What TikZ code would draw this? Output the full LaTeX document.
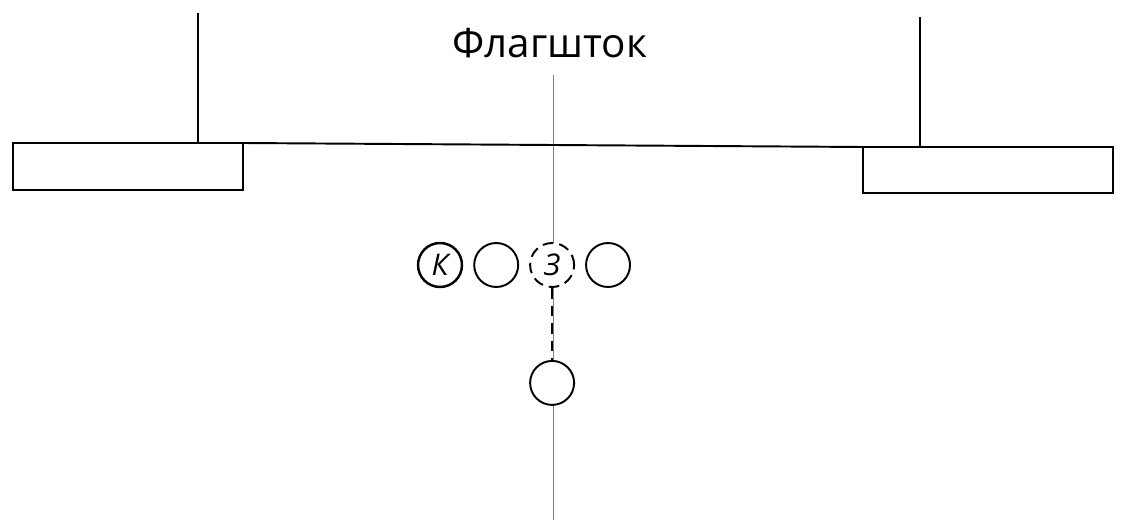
\documentclass[tikz,border=0pt]{standalone}
\usepackage{fontspec}
\setmainfont{Open Sans}
\usetikzlibrary{positioning}

\tikzset{
  player/.style={circle, draw, line width=1.1pt, fill=white, minimum size=0.88cm, inner sep=0pt,
                 font=\fontsize{17}{17}\selectfont\itshape},
  longdash/.style={dash pattern=on 6pt off 3.5pt}
}

\begin{document}
\begin{tikzpicture}[x=0.02cm, y=-0.02cm]
  \useasboundingbox (0,0) rectangle (1124,520);

  % title and centre line
  \node[font=\fontsize{23}{23}\selectfont, anchor=base] (title) at (550,58) {Флагшток};
  \coordinate (axisbottom) at (553,520);
  \draw[gray, line width=0.5pt] (553,75) -- (axisbottom);

  % left and right boards
  \draw[line width=1.1pt] (13,143) rectangle (243,190);
  \draw[line width=1.1pt] (863,147) rectangle (1113,193);
  \coordinate (lefttop) at (243,143);
  \coordinate (righttop) at (863,147);
  \draw[line width=1.1pt] (lefttop) -- (righttop);

  % posts
  \coordinate (leftpost) at (198,143);
  \coordinate (rightpost) at (920,147);
  \draw[line width=1.1pt] (leftpost) -- ++(0,-130);
  \draw[line width=1.1pt] (rightpost) -- ++(0,-130);

  % players
  \node[player, line width=1.4pt] (capt) at (440,265) {К};
  \node[player, right=0.2cm of capt] (p2) {};
  \node[player, longdash, right=0.2cm of p2] (back) {З};
  \node[player, right=0.2cm of back] (p4) {};
  \node[player, below=1.44cm of back] (front) {};

  \draw[line width=1.1pt, dash pattern=on 6pt off 4pt] (back) -- (front);

\end{tikzpicture}
\end{document}
